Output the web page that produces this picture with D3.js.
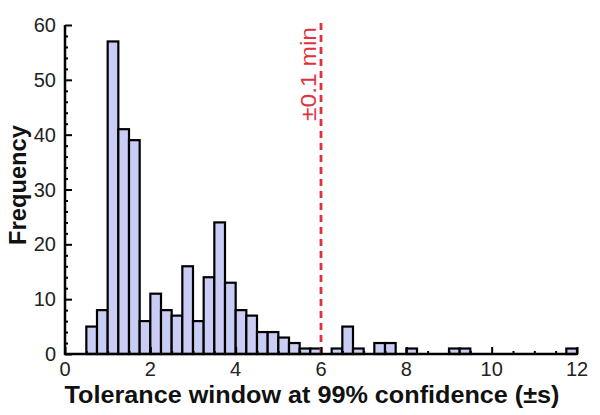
<!DOCTYPE html>
<html><head><meta charset="utf-8">
<script src="https://cdn.jsdelivr.net/npm/d3@7"></script>
<style>html,body{margin:0;padding:0;background:#fff;}</style>
</head><body><svg id="c" width="600" height="415"></svg>
<script>
const binStarts = [0.5,0.75,1.0,1.25,1.5,1.75,2.0,2.25,2.5,2.75,3.0,3.25,3.5,3.75,4.0,4.25,4.5,4.75,5.0,5.25,5.5,5.75,6.0,6.25,6.5,6.75,7.0,7.25,7.5,7.75,8.0,8.25,8.5,8.75,9.0,9.25,9.5,9.75,10.0,10.25,10.5,10.75,11.0,11.25,11.5,11.75];
const counts    = [5,8,57,41,39,6,11,8,7,16,6,14,24,13,8,7,4,4,3,2,1,1,0,1,5,1,0,2,2,0,1,0,0,0,1,1,0,0,0,0,0,0,0,0,0,1];
const binWidth = 0.25;
const xTicks = [0,2,4,6,8,10,12];
const yTicks = [0,10,20,30,40,50,60];
const thresholdX = 6;
const thresholdLabel = "±0.1 min";
const xTitle = "Tolerance window at 99% confidence (±s)";
const yTitle = "Frequency";

const svg = d3.select("#c");
const x = d3.scaleLinear().domain([0,12]).range([65,577]);
const y = d3.scaleLinear().domain([0,60]).range([354,25]);
const font = "Liberation Sans, Arial, sans-serif";

// bars
const data = binStarts.map((s,i)=>({s, c:counts[i]})).filter(d=>d.c>0);
svg.append("g").selectAll("rect").data(data).join("rect")
  .attr("x", d=>x(d.s)).attr("width", d=>x(d.s+binWidth)-x(d.s))
  .attr("y", d=>y(d.c)).attr("height", d=>y(0)-y(d.c))
  .attr("fill","#c9cdf3").attr("stroke","#000").attr("stroke-width",2.2);

// threshold line
svg.append("line").attr("x1",x(thresholdX)).attr("x2",x(thresholdX))
  .attr("y1",y(0)).attr("y2",20)
  .attr("stroke","#e0323c").attr("stroke-width",2.8).attr("stroke-dasharray","7,5");
svg.append("text").attr("transform",`translate(${x(thresholdX)-5},74) rotate(-90)`)
  .attr("text-anchor","middle").attr("font-family",font).attr("font-size",22)
  .attr("textLength",94).attr("lengthAdjust","spacingAndGlyphs")
  .attr("fill","#e0323c").text(thresholdLabel);

// y axis
const ya = svg.append("g").attr("transform",`translate(${x(0)},0)`);
ya.call(d3.axisRight(y).tickValues(d3.range(0,61,2)).tickSize(3).tickFormat(""));
ya.selectAll(".tick").filter(d=>d%10===0).select("line").attr("x2",7);
ya.select(".domain").remove();
ya.selectAll("line").attr("stroke","#000").attr("stroke-width",2);
svg.append("g").selectAll("text").data(yTicks).join("text")
  .attr("x",56).attr("y",d=>y(d)+7).attr("text-anchor","end")
  .attr("font-family",font).attr("font-size",20).attr("fill","#222").text(d=>d);

// x axis
const xa = svg.append("g").attr("transform",`translate(0,${y(0)})`);
xa.call(d3.axisTop(x).tickValues(d3.range(0,12.01,0.5)).tickSize(3).tickFormat(""));
xa.selectAll(".tick").filter(d=>Math.abs(d%2)<1e-9).select("line").attr("y2",-7);
xa.select(".domain").remove();
xa.selectAll("line").attr("stroke","#000").attr("stroke-width",2);
svg.append("g").selectAll("text").data(xTicks).join("text")
  .attr("x",d=>x(d)).attr("y",376).attr("text-anchor","middle")
  .attr("font-family",font).attr("font-size",20).attr("fill","#222").text(d=>d);

// axis lines
svg.append("line").attr("x1",x(0)).attr("x2",x(0)).attr("y1",y(60)).attr("y2",y(0)+1)
  .attr("stroke","#000").attr("stroke-width",2.5);
svg.append("line").attr("x1",x(0)-1).attr("x2",x(12)).attr("y1",y(0)).attr("y2",y(0))
  .attr("stroke","#000").attr("stroke-width",2.5);

// titles
svg.append("text").attr("x",312).attr("y",403).attr("text-anchor","middle")
  .attr("font-family",font).attr("font-weight","bold").attr("font-size",23)
  .attr("textLength",495).attr("lengthAdjust","spacingAndGlyphs")
  .attr("fill","#111").text(xTitle);
svg.append("text").attr("transform","translate(26,185) rotate(-90)").attr("text-anchor","middle")
  .attr("font-family",font).attr("font-weight","bold").attr("font-size",23)
  .attr("textLength",120).attr("lengthAdjust","spacingAndGlyphs")
  .attr("fill","#111").text(yTitle);
</script></body></html>
